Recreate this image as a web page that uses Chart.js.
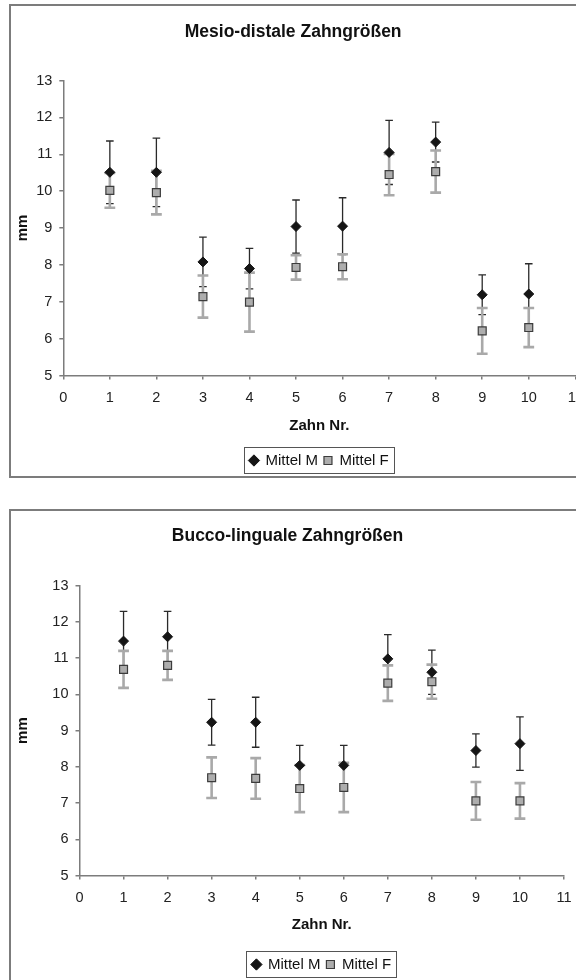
<!DOCTYPE html>
<html>
<head>
<meta charset="utf-8">
<script src="https://cdn.jsdelivr.net/npm/chart.js@4.4.1/dist/chart.umd.min.js"></script>
<style>
  html, body { margin: 0; padding: 0; background: #fff; width: 576px; height: 980px; overflow: hidden; position: relative; }
  canvas { position: absolute; }
  .frame { position: absolute; border: 2px solid #7c7c7c; box-sizing: border-box; pointer-events: none; }
</style>
</head>
<body>
<canvas id="mesio" width="575" height="472" style="left:11px;top:6px;width:575px;height:472px"></canvas>
<canvas id="bucco" width="575" height="470" style="left:11px;top:512px;width:575px;height:470px"></canvas>
<div class="frame" style="left:9px;top:4px;width:580px;height:474px"></div>
<div class="frame" style="left:9px;top:509px;width:580px;height:490px"></div>
<script>
// Tooth numbers on the x axis
const teeth = [1, 2, 3, 4, 5, 6, 7, 8, 9, 10];
const seriesNames = ['Mittel M', 'Mittel F'];

// Mesio-distal tooth sizes (mm): means and standard deviations
const mdMeanM = [10.51, 10.51, 8.08, 7.90, 9.04, 9.05, 11.05, 11.33, 7.19, 7.21];
const mdSdM   = [0.85, 0.93, 0.67, 0.55, 0.72, 0.77, 0.87, 0.54, 0.54, 0.82];
const mdMeanF = [10.02, 9.96, 7.14, 6.99, 7.93, 7.95, 10.45, 10.53, 6.21, 6.30];
const mdSdF   = [0.47, 0.59, 0.57, 0.80, 0.33, 0.34, 0.56, 0.57, 0.62, 0.53];

// Bucco-lingual tooth sizes (mm): means and standard deviations
const blMeanM = [11.47, 11.59, 9.23, 9.23, 8.04, 8.04, 10.98, 10.61, 8.45, 8.64];
const blSdM   = [0.82, 0.70, 0.63, 0.69, 0.55, 0.55, 0.67, 0.61, 0.46, 0.74];
const blMeanF = [10.69, 10.80, 7.70, 7.68, 7.40, 7.43, 10.31, 10.35, 7.06, 7.06];
const blSdF   = [0.51, 0.40, 0.56, 0.56, 0.65, 0.68, 0.49, 0.47, 0.52, 0.49];

const FONT = '"Liberation Sans", Arial, sans-serif';
const AXIS_GREY = '#7c7c7c';

// Vertical error bars with caps, drawn beneath the markers
const errorBars = {
  id: 'errorBars',
  beforeDatasetsDraw(chart) {
    const { ctx, scales: { x, y } } = chart;
    chart.data.datasets.forEach(ds => {
      const st = ds.errorStyle;
      ctx.save();
      ctx.strokeStyle = st.color;
      ctx.lineWidth = st.width;
      ds.data.forEach((p, i) => {
        const e = ds.errors[i];
        const px = x.getPixelForValue(p.x);
        const yt = y.getPixelForValue(p.y + e);
        const yb = y.getPixelForValue(p.y - e);
        ctx.beginPath();
        ctx.moveTo(px, yt); ctx.lineTo(px, yb);
        ctx.moveTo(px - st.cap, yt); ctx.lineTo(px + st.cap, yt);
        ctx.moveTo(px - st.cap, yb); ctx.lineTo(px + st.cap, yb);
        ctx.stroke();
      });
      ctx.restore();
    });
  }
};

// Thin box around the legend entries
const legendFrame = {
  id: 'legendFrame',
  afterDraw(chart) {
    const lg = chart.legend;
    if (!lg || !lg.legendHitBoxes || !lg.legendHitBoxes.length) return;
    const hb = lg.legendHitBoxes;
    const left = Math.min(...hb.map(b => b.left)) - 6;
    const right = Math.max(...hb.map(b => b.left + b.width)) + 5;
    const cy = hb[0].top + hb[0].height / 2;
    const ctx = chart.ctx;
    ctx.save();
    ctx.strokeStyle = '#555';
    ctx.lineWidth = 1;
    ctx.strokeRect(Math.round(left) + 0.5, Math.round(cy - 14) + 0.5, Math.round(right - left), 26);
    ctx.restore();
  }
};

function points(values) {
  return teeth.map((t, i) => ({ x: t, y: values[i] }));
}

function makeChart(id, title, meanM, sdM, meanF, sdF, g) {
  return new Chart(document.getElementById(id), {
    type: 'scatter',
    data: {
      datasets: [
        {
          label: seriesNames[0],
          data: points(meanM),
          errors: sdM,
          errorStyle: { color: '#2a2a2a', width: 1.3, cap: 3.8 },
          pointStyle: 'rectRot',
          radius: 5,
          backgroundColor: '#151515',
          borderColor: '#151515',
          borderWidth: 1
        },
        {
          label: seriesNames[1],
          data: points(meanF),
          errors: sdF,
          errorStyle: { color: '#a9a9a9', width: 2.6, cap: 5.4 },
          pointStyle: 'rect',
          radius: 5.6,
          backgroundColor: '#adadad',
          borderColor: '#3c3c3c',
          borderWidth: 1.2
        }
      ]
    },
    options: {
      responsive: false,
      animation: false,
      events: [],
      layout: { padding: { left: 0, right: g.padRight, top: 0, bottom: 0 } },
      plugins: {
        tooltip: { enabled: false },
        title: {
          display: true,
          text: title,
          color: '#111',
          font: { family: FONT, size: 17.5, weight: 'bold' },
          padding: { top: g.titleTop, bottom: g.titleBottom }
        },
        legend: {
          position: 'bottom',
          fullSize: false,
          labels: {
            usePointStyle: true,
            boxWidth: 8,
            boxHeight: 8,
            padding: 6,
            color: '#111',
            font: { family: FONT, size: 15 }
          }
        }
      },
      scales: {
        x: {
          type: 'linear',
          min: 0,
          max: 11,
          ticks: { stepSize: 1, color: '#222', padding: 10, font: { family: FONT, size: 14.5 } },
          grid: { drawOnChartArea: false, drawTicks: true, tickLength: 4, color: AXIS_GREY, lineWidth: 1.5 },
          border: { display: true, color: AXIS_GREY, width: 1.5 },
          title: {
            display: true,
            text: 'Zahn Nr.',
            color: '#111',
            font: { family: FONT, size: 15, weight: 'bold' },
            padding: { top: 0, bottom: g.xTitleBottom }
          },
          afterFit(scale) {
            scale.height = g.xHeight;
            scale.paddingLeft = 0;
            scale.paddingRight = 0;
          }
        },
        y: {
          type: 'linear',
          min: 5,
          max: 13,
          ticks: { stepSize: 1, color: '#222', padding: 7, font: { family: FONT, size: 14.5 } },
          grid: { drawOnChartArea: false, drawTicks: true, tickLength: 4, color: AXIS_GREY, lineWidth: 1.5 },
          border: { display: true, color: AXIS_GREY, width: 1.5 },
          title: {
            display: true,
            text: 'mm',
            color: '#111',
            font: { family: FONT, size: 15, weight: 'bold' },
            padding: { top: 3, bottom: 0 }
          },
          afterFit(scale) { scale.width = g.yWidth; }
        }
      }
    },
    plugins: [errorBars, legendFrame]
  });
}

makeChart('mesio', 'Mesio-distale Zahngrößen', mdMeanM, mdSdM, mdMeanF, mdSdF, {
  padRight: 10.7, titleTop: 15.5, titleBottom: 38,
  xHeight: 71.5, xTitleBottom: 12.5, yWidth: 52.3
});

makeChart('bucco', 'Bucco-linguale Zahngrößen', blMeanM, blSdM, blMeanF, blSdF, {
  padRight: 22, titleTop: 14, titleBottom: 38.7,
  xHeight: 75.5, xTitleBottom: 17.2, yWidth: 68.5
});
</script>
</body>
</html>
